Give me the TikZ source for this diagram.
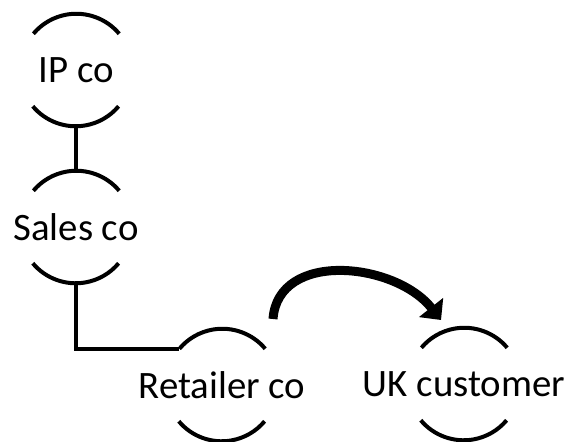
\documentclass[tikz,border=0pt]{standalone}
\usepackage{fontspec}
\setmainfont{Carlito}
\usetikzlibrary{arrows.meta}

\begin{document}
\begin{tikzpicture}
      [
        x=0.5pt, y=-0.5pt,
        party/.style={circle, minimum size=56pt, inner sep=0pt,
          label={[font=\fontsize{19.4}{23}\selectfont]center:#1}},
        rimstyle/.style={draw, line width=2pt},
        linkstyle/.style={draw, line width=2pt},
        arrowstyle/.style={draw, line width=4.5pt,
          -{Triangle[width=15pt,length=8pt]}}
      ]
      \useasboundingbox (0,0) rectangle (571,441);

      \node[party=IP co] (ip) at (76,70) {};
      \node[party=Sales co] (sales) at (76,227) {};
      \node[party=Retailer co] (ret) at (222,385) {};
      \node[party=UK customer] (uk) at (464,384) {};

      \foreach \n in {ip,sales,ret,uk} {
        \draw[rimstyle] (\n.40) arc[start angle=40, end angle=140, radius=28pt];
        \draw[rimstyle] (\n.220) arc[start angle=220, end angle=320, radius=28pt];
      }

      \draw[linkstyle] (ip.south) -- (sales.north);
      \draw[linkstyle] (sales.south) |- (ret.140);

      \coordinate (give) at ([shift={(51,-66)}]ret.center);
      \coordinate (get) at ([shift={(-23,-64)}]uk.center);
      \draw[arrowstyle] (give) .. controls (278,250) and (395,262) .. (get);

    \end{tikzpicture}
\end{document}
